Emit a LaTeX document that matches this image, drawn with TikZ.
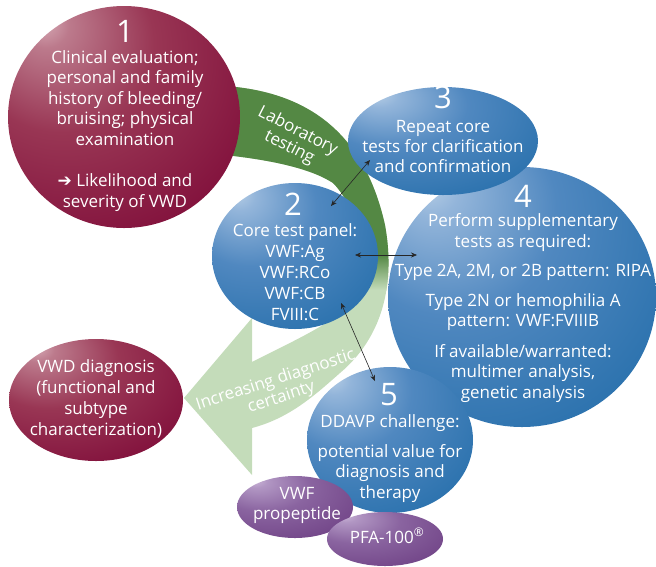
\documentclass[tikz,border=0pt]{standalone}
\usepackage{fontspec}
\setmainfont{Open Sans}
\newfontfamily\symfont{DejaVu Sans}
\usetikzlibrary{shapes.geometric,arrows.meta}
\definecolor{mrA}{HTML}{D9AFBA}
\definecolor{mrB}{HTML}{BC7A8C}
\definecolor{mrC}{HTML}{993654}
\definecolor{mrD}{HTML}{7A0434}
\definecolor{blA}{HTML}{B8CFE6}
\definecolor{blB}{HTML}{93B5DA}
\definecolor{blC}{HTML}{5088C0}
\definecolor{blD}{HTML}{1E6AA7}
\definecolor{puA}{HTML}{CDB8D9}
\definecolor{puB}{HTML}{B196C3}
\definecolor{puC}{HTML}{8A64A0}
\definecolor{puD}{HTML}{6A3B80}
\definecolor{dkgreen}{HTML}{548844}
\definecolor{ltgreen}{HTML}{C4DCBA}
\pgfdeclareradialshading{maroonball}{\pgfpoint{-18bp}{22bp}}{color(0bp)=(mrA); color(5bp)=(mrB); color(20bp)=(mrC); color(48bp)=(mrD); color(80bp)=(mrD)}
\pgfdeclareradialshading{blueball}{\pgfpoint{-18bp}{22bp}}{color(0bp)=(blA); color(5bp)=(blB); color(20bp)=(blC); color(48bp)=(blD); color(80bp)=(blD)}
\pgfdeclareradialshading{purpleball}{\pgfpoint{-18bp}{22bp}}{color(0bp)=(puA); color(5bp)=(puB); color(20bp)=(puC); color(48bp)=(puD); color(80bp)=(puD)}
\begin{document}
\begin{tikzpicture}[x=1pt,y=1pt,
  bubble/.style={ellipse, inner sep=0pt, outer sep=0pt, draw=none},
  maroonbub/.style={bubble, shading=maroonball},
  bluebub/.style={bubble, shading=blueball},
  purplebub/.style={bubble, shading=purpleball},
  txt/.style={text=white, align=center, inner sep=0pt, anchor=base, font=\fontsize{17}{20.5}\selectfont},
  numtxt/.style={text=white, inner sep=0pt, anchor=base, font=\fontsize{31}{31}\selectfont},
  bandtxt/.style={text=white, align=center, inner sep=0pt, anchor=center, font=\fontsize{17}{18.3}\selectfont},
  link/.style={draw=black!85, line width=0.6pt, {Stealth[length=6pt,width=5pt]}-{Stealth[length=6pt,width=5pt]}}]
\useasboundingbox (0,0) rectangle (656,-566);
% green band
\path[save path=\bandp] (225,-86) .. controls (310,-92) and (365,-135) .. (385,-225)
  .. controls (395,-280) and (385,-335) .. (340,-373)
  .. controls (315,-395) and (290,-418) .. (252,-428)
  -- (252,-475) -- (184,-398) -- (252,-318) -- (252,-362)
  .. controls (285,-345) and (330,-325) .. (350,-305)
  .. controls (370,-270) and (360,-210) .. (333,-183)
  .. controls (310,-168) and (270,-160) .. (225,-155) -- cycle;
\begin{scope}
  \clip[use path=\bandp];
  \fill[ltgreen] (150,-60) rectangle (420,-480);
  \fill[dkgreen] (150,-60) rectangle (420,-255);
  \shade[top color=dkgreen, bottom color=ltgreen] (150,-255) rectangle (420,-290);
\end{scope}
\node[bandtxt, rotate=-27] (lab) at (293.5,-139.5) {Laboratory\\testing};
\node[bandtxt, rotate=18] (inc) at (278.5,-389) {Increasing diagnostic\\certainty};
% bubbles
\node[maroonbub, minimum width=232, minimum height=222] (c1) at (124,-117) {};
\node[maroonbub, minimum width=174, minimum height=122] (dx) at (96,-400) {};
\node[bluebub, minimum width=268, minimum height=260] (c4) at (522,-297) {};
\node[bluebub, minimum width=190, minimum height=108] (c3) at (443,-141) {};
\node[bluebub, minimum width=166, minimum height=146] (c2) at (295,-256) {};
\node[bluebub, minimum width=166, minimum height=146] (c5) at (390,-440) {};
\node[purplebub, minimum width=116, minimum height=62] (pp) at (295,-507) {};
\node[purplebub, minimum width=116, minimum height=54] (pfa) at (385,-539) {};
% texts (anchor=base is the baseline of the last line)
\node[numtxt] (n1) at (125,-42) {1};
\node[txt] (t1) at (125,-207) {Clinical evaluation;\\personal and family\\history of bleeding/\\bruising; physical\\examination\\[21pt]{\symfont ➔} Likelihood and\\severity of VWD};
\node[numtxt] (n2) at (293,-215) {2};
\node[txt, font=\fontsize{17}{21}\selectfont] (t2) at (295,-320) {Core test panel:\\VWF:Ag\\VWF:RCo\\VWF:CB\\FVIII:C};
\node[numtxt] (n3) at (443,-108) {3};
\node[txt, font=\fontsize{17}{20}\selectfont] (t3) at (443,-172) {Repeat core\\tests for clarification\\and confirmation};
\node[numtxt] (n4) at (523,-207) {4};
\node[txt] (t4) at (523,-398) {Perform supplementary\\tests as required:\\[9pt]Type 2A, 2M, or 2B pattern: RIPA\\[9pt]Type 2N or hemophilia A\\pattern: VWF:FVIIIB\\[10pt]If available/warranted:\\multimer analysis,\\genetic analysis};
\node[numtxt] (n5) at (389,-405) {5};
\node[txt] (t5) at (390,-498) {DDAVP challenge:\\[9pt]potential value for\\diagnosis and\\therapy};
\node[txt, font=\fontsize{17}{20.7}\selectfont] (tdx) at (96,-435) {VWD diagnosis\\(functional and\\subtype\\characterization)};
\node[txt] (tpp) at (297,-519.5) {VWF\\propeptide};
\node[txt] (tpfa) at (387,-543) {PFA-100\textsuperscript{®}};
% connectors
\coordinate (a3) at (370,-160);
\coordinate (a2t) at (331,-206);
\coordinate (a2r) at (355,-255);
\coordinate (a4l) at (417,-255);
\coordinate (a2b) at (341,-303);
\coordinate (a5t) at (375,-381);
\draw[link] (a3) -- (a2t);
\draw[link] (a2r) -- (a4l);
\draw[link] (a2b) -- (a5t);
\end{tikzpicture}
\end{document}
